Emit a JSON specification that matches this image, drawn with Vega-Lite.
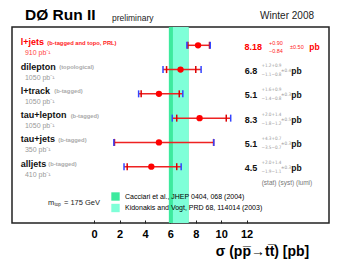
{
  "$schema": "https://vega.github.io/schema/vega-lite/v6.json",
  "width": 317,
  "height": 196,
  "autosize": "none",
  "padding": {"left": 12, "top": 27, "right": 10, "bottom": 41},
  "background": "white",
  "config": {
    "view": {"stroke": "#222", "strokeWidth": 1.5},
    "font": "Liberation Sans",
    "text": {"font": "Liberation Sans", "baseline": "middle"}
  },
  "datasets": {
    "rows": [
      {"channel": "l+jets", "note": "(b-tagged and topo, PRL)", "lumi": "910 pb⁻¹", "row": 1, "xsec": 8.18, "xsec_txt": "8.18", "stat_up": "+0.90", "stat_dn": "−0.84", "syst_up": "", "syst_dn": "", "lumi_err": "±0.50", "stat_lo": 7.38, "stat_hi": 9.08, "tot_lo": 7.3, "tot_hi": 9.14},
      {"channel": "dilepton", "note": "(topological)", "lumi": "1050 pb⁻¹", "row": 2, "xsec": 6.8, "xsec_txt": "6.8", "stat_up": "+1.2", "stat_dn": "−1.1", "syst_up": "+0.9", "syst_dn": "−0.8", "lumi_err": "±0.4", "stat_lo": 5.7, "stat_hi": 8.0, "tot_lo": 5.42, "tot_hi": 8.42},
      {"channel": "l+track", "note": "(b-tagged)", "lumi": "1050 pb⁻¹", "row": 3, "xsec": 5.1, "xsec_txt": "5.1", "stat_up": "+1.6", "stat_dn": "−1.4", "syst_up": "+0.9", "syst_dn": "−0.8", "lumi_err": "±0.3", "stat_lo": 3.7, "stat_hi": 6.7, "tot_lo": 3.5, "tot_hi": 6.98},
      {"channel": "tau+lepton", "note": "(b-tagged)", "lumi": "1050 pb⁻¹", "row": 4, "xsec": 8.3, "xsec_txt": "8.3", "stat_up": "+2.0", "stat_dn": "−1.8", "syst_up": "+1.4", "syst_dn": "−1.2", "lumi_err": "±0.5", "stat_lo": 6.5, "stat_hi": 10.4, "tot_lo": 6.15, "tot_hi": 10.75},
      {"channel": "tau+jets", "note": "(b-tagged)", "lumi": "350 pb⁻¹", "row": 5, "xsec": 5.1, "xsec_txt": "5.1", "stat_up": "+4.3", "stat_dn": "−3.5", "syst_up": "+0.7", "syst_dn": "−0.7", "lumi_err": "±0.3", "stat_lo": 1.6, "stat_hi": 9.4, "tot_lo": 1.55, "tot_hi": 9.42},
      {"channel": "alljets", "note": "(b-tagged)", "lumi": "410 pb⁻¹", "row": 6, "xsec": 4.5, "xsec_txt": "4.5", "stat_up": "+2.0", "stat_dn": "−1.9", "syst_up": "+1.4", "syst_dn": "−1.1", "lumi_err": "±0.3", "stat_lo": 2.6, "stat_hi": 6.5, "tot_lo": 2.35, "tot_hi": 6.85}
    ],
    "theory": [
      {"name": "Cacciari et al., JHEP 0404, 068 (2004)", "lo": 5.88, "hi": 7.43},
      {"name": "Kidonakis and Vogt, PRD 68, 114014 (2003)", "lo": 6.2, "hi": 7.43}
    ],
    "labels": [
      {"t": "DØ Run II"}
    ]
  },
  "layer": [
    {
      "data": {"name": "theory"},
      "mark": {"type": "rect"},
      "encoding": {
        "x": {"field": "lo", "type": "quantitative",
          "scale": {"domain": [-6.47, 18.49], "nice": false, "zero": false},
          "axis": {
            "values": [0, 0.5, 1, 1.5, 2, 2.5, 3, 3.5, 4, 4.5, 5, 5.5, 6, 6.5, 7, 7.5, 8, 8.5, 9, 9.5, 10, 10.5, 11, 11.5, 12],
            "labelExpr": "datum.value % 2 == 0 ? datum.label : ''",
            "domain": false, "grid": false,
            "tickSize": -3, "tickColor": "#222", "tickWidth": 1,
            "labelPadding": 8, "labelFont": "Liberation Sans", "labelFontSize": 11, "labelFontWeight": "bold", "labelColor": "#000",
            "title": "σ (pp̅→tt̅) [pb]", "titleFont": "Liberation Sans", "titleFontSize": 14, "titleFontWeight": "bold", "titleColor": "#000",
            "titleX": 250, "titleY": 32, "titleBaseline": "alphabetic", "titleAnchor": null, "titleAlign": "center"
          }},
        "x2": {"field": "hi"},
        "color": {"field": "name", "type": "nominal",
          "scale": {"domain": ["Cacciari et al., JHEP 0404, 068 (2004)", "Kidonakis and Vogt, PRD 68, 114014 (2003)"], "range": ["#3dea9e", "#7fffd8"]},
          "legend": {"orient": "none", "legendX": 99, "legendY": 165, "title": null, "symbolType": "square", "symbolSize": 70, "symbolStrokeWidth": 0, "symbolOpacity": 1, "labelFont": "Liberation Sans", "labelFontSize": 7, "labelColor": "#000", "rowPadding": 2.5, "labelOffset": 5}}
      }
    },
    {
      "data": {"name": "rows"},
      "mark": {"type": "rule", "color": "#ee2222", "strokeWidth": 1.5},
      "encoding": {
        "x": {"field": "tot_lo", "type": "quantitative"},
        "x2": {"field": "tot_hi"},
        "y": {"field": "row", "type": "quantitative", "scale": {"domain": [0.246, 8.32], "reverse": true, "nice": false, "zero": false}, "axis": null}
      }
    },
    {
      "data": {"name": "rows"},
      "mark": {"type": "tick", "orient": "vertical", "color": "#dd0000", "size": 7, "thickness": 1.5, "opacity": 1},
      "encoding": {"x": {"field": "stat_lo", "type": "quantitative"}, "y": {"field": "row", "type": "quantitative"}}
    },
    {
      "data": {"name": "rows"},
      "mark": {"type": "tick", "orient": "vertical", "color": "#dd0000", "size": 7, "thickness": 1.5, "opacity": 1},
      "encoding": {"x": {"field": "stat_hi", "type": "quantitative"}, "y": {"field": "row", "type": "quantitative"}}
    },
    {
      "data": {"name": "rows"},
      "mark": {"type": "tick", "orient": "vertical", "color": "#3344ff", "size": 7, "thickness": 1.5, "opacity": 1},
      "encoding": {"x": {"field": "tot_lo", "type": "quantitative"}, "y": {"field": "row", "type": "quantitative"}}
    },
    {
      "data": {"name": "rows"},
      "mark": {"type": "tick", "orient": "vertical", "color": "#3344ff", "size": 7, "thickness": 1.5, "opacity": 1},
      "encoding": {"x": {"field": "tot_hi", "type": "quantitative"}, "y": {"field": "row", "type": "quantitative"}}
    },
    {
      "data": {"name": "rows"},
      "mark": {"type": "point", "shape": "circle", "filled": true, "color": "#ff0000", "size": 40, "opacity": 1},
      "encoding": {"x": {"field": "xsec", "type": "quantitative"}, "y": {"field": "row", "type": "quantitative"}}
    },
    {
      "data": {"name": "rows"},
      "mark": {"type": "text", "align": "left", "fontSize": 9, "fontWeight": "bold", "dy": -3},
      "encoding": {
        "text": {"field": "channel"},
        "x": {"datum": -5.79}, "y": {"field": "row", "type": "quantitative"},
        "color": {"condition": {"test": "datum.channel === 'l+jets'", "value": "#ff0000"}, "value": "#111111"}
      }
    },
    {
      "data": {"name": "rows"},
      "mark": {"type": "text", "align": "left", "fontSize": 7, "dy": 8},
      "encoding": {
        "text": {"field": "lumi"},
        "x": {"datum": -5.45}, "y": {"field": "row", "type": "quantitative"},
        "color": {"condition": {"test": "datum.channel === 'l+jets'", "value": "#ff4444"}, "value": "#999999"}
      }
    },
    {
      "data": {"name": "rows"}, "transform": [{"filter": "datum.row == 1"}],
      "mark": {"type": "text", "align": "left", "fontSize": 5.8, "fontWeight": "bold", "dy": -2.5, "color": "#ff2222"},
      "encoding": {"text": {"field": "note"}, "x": {"datum": -3.69}, "y": {"field": "row", "type": "quantitative"}}
    },
    {
      "data": {"name": "rows"}, "transform": [{"filter": "datum.row == 2"}],
      "mark": {"type": "text", "align": "left", "fontSize": 5.8, "fontWeight": "bold", "dy": -2.5, "color": "#aaaaaa"},
      "encoding": {"text": {"field": "note"}, "x": {"datum": -2.75}, "y": {"field": "row", "type": "quantitative"}}
    },
    {
      "data": {"name": "rows"}, "transform": [{"filter": "datum.row == 3"}],
      "mark": {"type": "text", "align": "left", "fontSize": 5.8, "fontWeight": "bold", "dy": -2.5, "color": "#aaaaaa"},
      "encoding": {"text": {"field": "note"}, "x": {"datum": -3.14}, "y": {"field": "row", "type": "quantitative"}}
    },
    {
      "data": {"name": "rows"}, "transform": [{"filter": "datum.row == 4"}],
      "mark": {"type": "text", "align": "left", "fontSize": 5.8, "fontWeight": "bold", "dy": -2.5, "color": "#aaaaaa"},
      "encoding": {"text": {"field": "note"}, "x": {"datum": -1.85}, "y": {"field": "row", "type": "quantitative"}}
    },
    {
      "data": {"name": "rows"}, "transform": [{"filter": "datum.row == 5"}],
      "mark": {"type": "text", "align": "left", "fontSize": 5.8, "fontWeight": "bold", "dy": -2.5, "color": "#aaaaaa"},
      "encoding": {"text": {"field": "note"}, "x": {"datum": -2.83}, "y": {"field": "row", "type": "quantitative"}}
    },
    {
      "data": {"name": "rows"}, "transform": [{"filter": "datum.row == 6"}],
      "mark": {"type": "text", "align": "left", "fontSize": 5.8, "fontWeight": "bold", "dy": -2.5, "color": "#aaaaaa"},
      "encoding": {"text": {"field": "note"}, "x": {"datum": -3.61}, "y": {"field": "row", "type": "quantitative"}}
    },
    {
      "data": {"name": "rows"}, "transform": [{"filter": "datum.row > 1"}],
      "mark": {"type": "text", "align": "right", "fontSize": 9, "fontWeight": "bold", "dy": 1.5, "color": "#111111"},
      "encoding": {"text": {"field": "xsec_txt"}, "x": {"datum": 12.85}, "y": {"field": "row", "type": "quantitative"}}
    },
    {
      "data": {"name": "rows"}, "transform": [{"filter": "datum.row > 1"}],
      "mark": {"type": "text", "align": "left", "font": "DejaVu Sans Condensed", "fontSize": 4.6, "dy": -3.6, "color": "#999999"},
      "encoding": {"text": {"field": "stat_up"}, "x": {"datum": 13.17}, "y": {"field": "row", "type": "quantitative"}}
    },
    {
      "data": {"name": "rows"}, "transform": [{"filter": "datum.row > 1"}],
      "mark": {"type": "text", "align": "left", "font": "DejaVu Sans Condensed", "fontSize": 4.6, "dy": 5.4, "color": "#999999"},
      "encoding": {"text": {"field": "stat_dn"}, "x": {"datum": 13.17}, "y": {"field": "row", "type": "quantitative"}}
    },
    {
      "data": {"name": "rows"}, "transform": [{"filter": "datum.row > 1"}],
      "mark": {"type": "text", "align": "left", "font": "DejaVu Sans Condensed", "fontSize": 4.6, "dy": -3.6, "color": "#999999"},
      "encoding": {"text": {"field": "syst_up"}, "x": {"datum": 13.96}, "y": {"field": "row", "type": "quantitative"}}
    },
    {
      "data": {"name": "rows"}, "transform": [{"filter": "datum.row > 1"}],
      "mark": {"type": "text", "align": "left", "font": "DejaVu Sans Condensed", "fontSize": 4.6, "dy": 5.4, "color": "#999999"},
      "encoding": {"text": {"field": "syst_dn"}, "x": {"datum": 13.96}, "y": {"field": "row", "type": "quantitative"}}
    },
    {
      "data": {"name": "rows"}, "transform": [{"filter": "datum.row > 1"}],
      "mark": {"type": "text", "align": "left", "font": "DejaVu Sans Condensed", "fontSize": 4.6, "dy": 1.4, "color": "#999999"},
      "encoding": {"text": {"field": "lumi_err"}, "x": {"datum": 14.72}, "y": {"field": "row", "type": "quantitative"}}
    },
    {
      "data": {"name": "rows"}, "transform": [{"filter": "datum.row > 1"}],
      "mark": {"type": "text", "align": "left", "fontSize": 8.5, "fontWeight": "bold", "dy": 1.4, "color": "#111111", "text": "pb"},
      "encoding": {"x": {"datum": 15.52}, "y": {"field": "row", "type": "quantitative"}}
    },
    {
      "data": {"name": "rows"}, "transform": [{"filter": "datum.row == 1"}],
      "mark": {"type": "text", "align": "right", "fontSize": 9, "fontWeight": "bold", "dy": 1.7, "color": "#ff0000"},
      "encoding": {"text": {"field": "xsec_txt"}, "x": {"datum": 13.21}, "y": {"field": "row", "type": "quantitative"}}
    },
    {
      "data": {"name": "rows"}, "transform": [{"filter": "datum.row == 1"}],
      "mark": {"type": "text", "align": "left", "fontSize": 5.5, "dy": -2.6, "color": "#ff2222"},
      "encoding": {"text": {"field": "stat_up"}, "x": {"datum": 13.76}, "y": {"field": "row", "type": "quantitative"}}
    },
    {
      "data": {"name": "rows"}, "transform": [{"filter": "datum.row == 1"}],
      "mark": {"type": "text", "align": "left", "fontSize": 5.5, "dy": 5.4, "color": "#ff2222"},
      "encoding": {"text": {"field": "stat_dn"}, "x": {"datum": 13.76}, "y": {"field": "row", "type": "quantitative"}}
    },
    {
      "data": {"name": "rows"}, "transform": [{"filter": "datum.row == 1"}],
      "mark": {"type": "text", "align": "left", "fontSize": 5.5, "dy": 1.7, "color": "#ff2222"},
      "encoding": {"text": {"field": "lumi_err"}, "x": {"datum": 15.42}, "y": {"field": "row", "type": "quantitative"}}
    },
    {
      "data": {"name": "rows"}, "transform": [{"filter": "datum.row == 1"}],
      "mark": {"type": "text", "align": "left", "fontSize": 8.5, "fontWeight": "bold", "dy": 1.7, "color": "#ff0000", "text": "pb"},
      "encoding": {"x": {"datum": 16.94}, "y": {"field": "row", "type": "quantitative"}}
    },
    {
      "data": {"name": "labels"},
      "mark": {"type": "text", "align": "left", "fontSize": 15.5, "fontWeight": "bold", "color": "#000", "text": "DØ Run II"},
      "encoding": {"x": {"datum": -5.45}, "y": {"datum": -0.248}}
    },
    {
      "data": {"name": "labels"},
      "mark": {"type": "text", "align": "left", "fontSize": 8.5, "color": "#222", "text": "preliminary"},
      "encoding": {"x": {"datum": 1.4}, "y": {"datum": -0.145}}
    },
    {
      "data": {"name": "labels"},
      "mark": {"type": "text", "align": "right", "fontSize": 10, "color": "#222", "text": "Winter 2008"},
      "encoding": {"x": {"datum": 17.31}, "y": {"datum": -0.207}}
    },
    {
      "data": {"name": "labels"},
      "mark": {"type": "text", "align": "center", "fontSize": 6.5, "color": "#777", "text": "(stat) (syst) (lumi)"},
      "encoding": {"x": {"datum": 15.18}, "y": {"datum": 6.68}}
    },
    {
      "data": {"name": "labels"},
      "mark": {"type": "text", "align": "left", "fontSize": 7.5, "color": "#222", "text": "m"},
      "encoding": {"x": {"datum": -3.64}, "y": {"datum": 7.495}}
    },
    {
      "data": {"name": "labels"},
      "mark": {"type": "text", "align": "left", "fontSize": 4.5, "color": "#222", "text": "top", "dy": 2.5},
      "encoding": {"x": {"datum": -3.13}, "y": {"datum": 7.495}}
    },
    {
      "data": {"name": "labels"},
      "mark": {"type": "text", "align": "left", "fontSize": 7.5, "color": "#222", "text": "= 175 GeV"},
      "encoding": {"x": {"datum": -2.38}, "y": {"datum": 7.495}}
    }
  ]
}
